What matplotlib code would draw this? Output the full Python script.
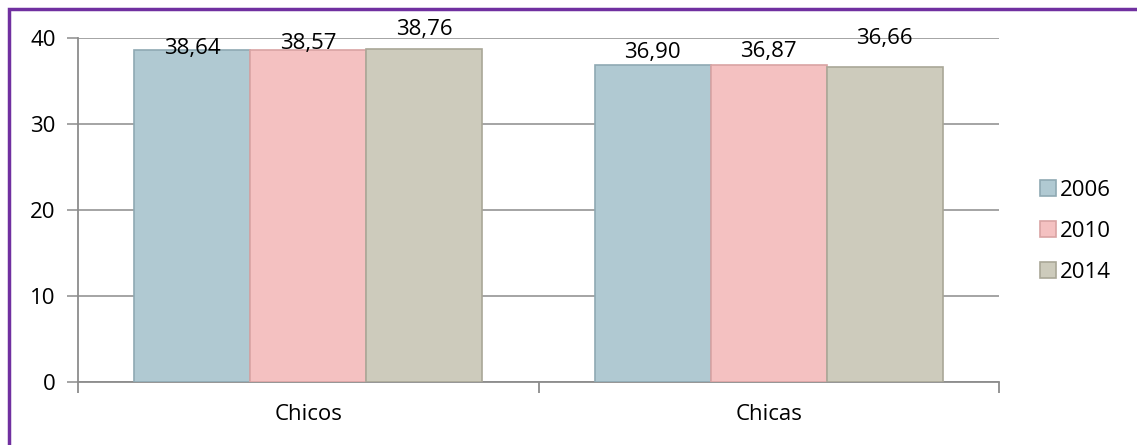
import numpy as np
import matplotlib
matplotlib.use('Agg')
from matplotlib import pyplot as plt
from matplotlib.patches import Rectangle

# datos
categorias = ['Chicos', 'Chicas']
anios = ['2006', '2010', '2014']
valores = {
    '2006': [38.64, 36.90],
    '2010': [38.57, 36.87],
    '2014': [38.76, 36.66],
}
colores = ['#B0C9D2', '#F4C1C1', '#CDCBBC']
bordes = ['#8FA9B3', '#D9A3A3', '#A9A797']

plt.rcParams['font.family'] = ['Open Sans', 'DejaVu Sans']

fig = plt.figure(figsize=(11.37, 4.45), dpi=100)
ax = fig.add_axes([78 / 1137, 1 - 382 / 445, (999 - 78) / 1137, (382 - 38) / 445])

x = np.arange(len(categorias))
ancho = 0.252
# desplazamiento de etiquetas (pixeles hacia arriba) respecto al tope de la barra
desp = [[1, 7, 19], [12, 13, 28]]
for i, anio in enumerate(anios):
    pos = x + (i - 1) * ancho
    ax.bar(pos, valores[anio], width=ancho, color=colores[i], edgecolor=bordes[i],
           linewidth=1.2, label=anio, zorder=3)
    for j, v in enumerate(valores[anio]):
        ax.annotate(f'{v:.2f}'.replace('.', ','), (pos[j], v),
                    xytext=(0, desp[j][i] * 0.72),
                    textcoords='offset points', ha='center', va='center',
                    fontsize=16, zorder=5)

ax.set_xlim(-0.5, 1.5)
ax.set_ylim(0, 40)
ax.set_yticks([0, 10, 20, 30, 40])
ax.yaxis.grid(True, color='#8C8C8C', linewidth=1.1, zorder=0)
ax.set_axisbelow(True)
ax.set_xticks([-0.5, 0.5, 1.5], minor=False)
ax.set_xticklabels(['', '', ''])
ax.set_xticks(x, minor=True)
ax.set_xticklabels(categorias, minor=True, fontsize=16)
ax.tick_params(axis='x', which='minor', length=0, pad=16)
ax.tick_params(axis='x', which='major', length=8, color='#8C8C8C', width=1.3)
ax.tick_params(axis='y', length=8, color='#8C8C8C', width=1.1, labelsize=16, pad=8)
for s in ['top', 'right']:
    ax.spines[s].set_visible(False)
for s in ['left', 'bottom']:
    ax.spines[s].set_color('#8C8C8C')
    ax.spines[s].set_linewidth(1.3)

leg = ax.legend(loc='center left', bbox_to_anchor=(1.028, 0.438), frameon=False,
                fontsize=16, handlelength=0.7, handleheight=0.7, handletextpad=0.2,
                labelspacing=0.9, borderaxespad=0.3)

# borde morado (solo arriba e izquierda visibles)
fig.patches.append(Rectangle((9 / 1137, -0.1), 1.2, 1 - 9 / 445 + 0.1, transform=fig.transFigure,
                             fill=False, edgecolor='#7030A0', linewidth=2.5))

fig.savefig('out.png', dpi=100)
